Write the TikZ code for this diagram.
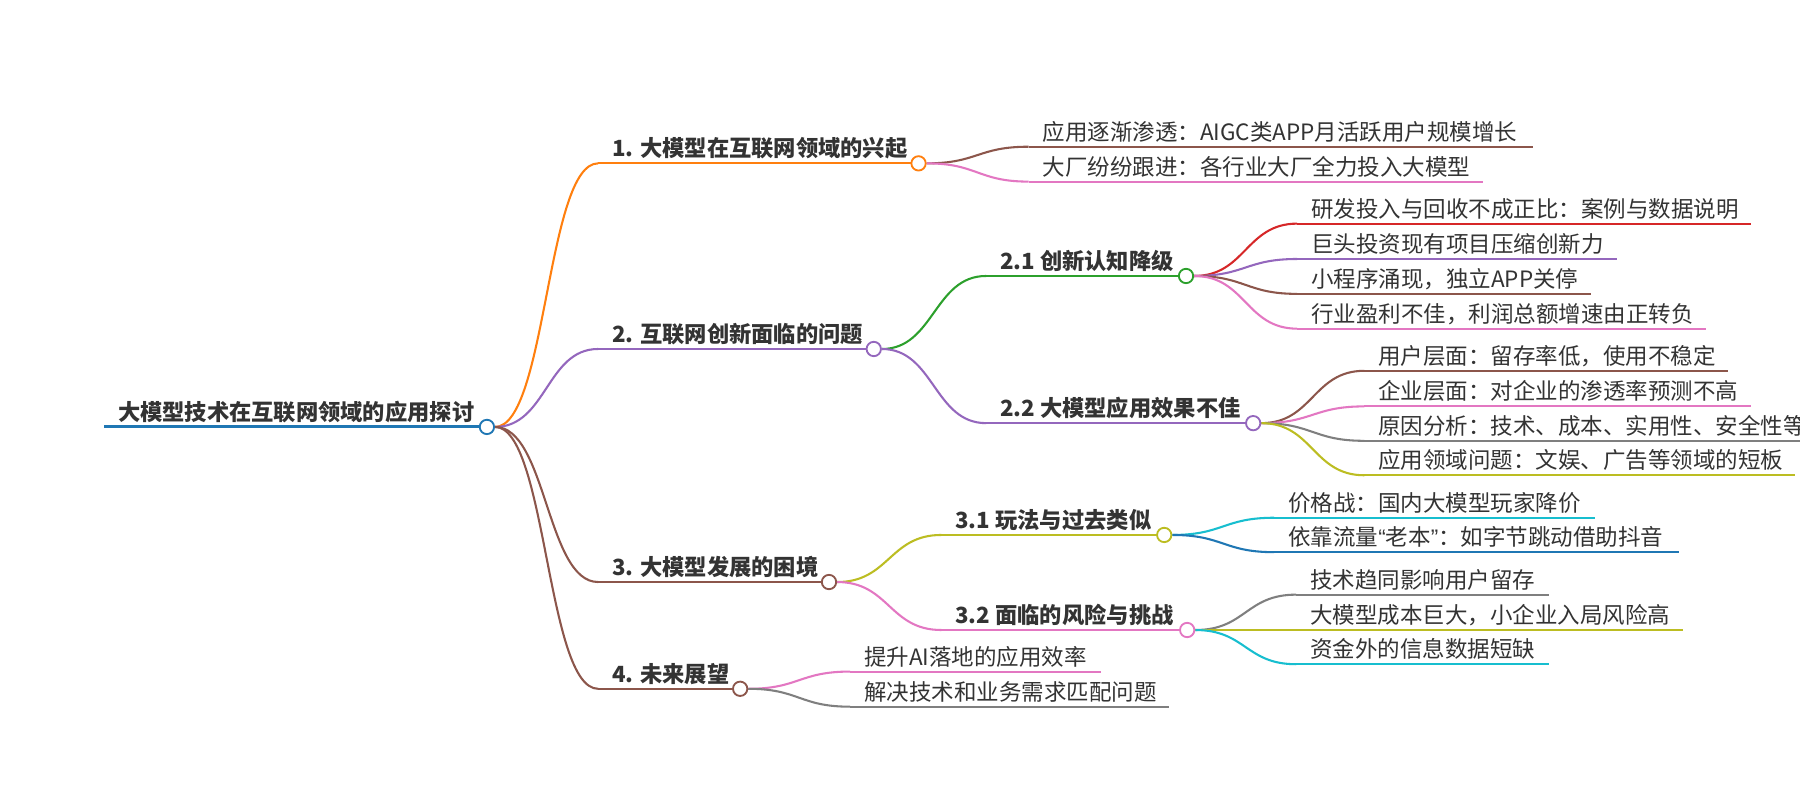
\documentclass[tikz,border=0pt]{standalone}
\usepackage{fontspec}
\setmainfont{Noto Sans CJK SC}
\newfontfamily\qfont{Liberation Sans}
\usetikzlibrary{calc,backgrounds}
\definecolor{cblue}{HTML}{1F77B4}
\definecolor{corange}{HTML}{FF7F0E}
\definecolor{cgreen}{HTML}{2CA02C}
\definecolor{cred}{HTML}{D62728}
\definecolor{cpurple}{HTML}{9467BD}
\definecolor{cbrown}{HTML}{8C564B}
\definecolor{cpink}{HTML}{E377C2}
\definecolor{cgray}{HTML}{7F7F7F}
\definecolor{colive}{HTML}{BCBD22}
\definecolor{ccyan}{HTML}{17BECF}
\definecolor{ctext}{HTML}{333333}
\newcommand\mmlink[3]{\draw[lk=#1] let \p1=(#2), \p2=(#3) in (\p1) .. controls ({0.5*\x1+0.5*\x2},\y1) and ({0.5*\x1+0.5*\x2},\y2) .. (\p2);}
\newcommand\mmul[2]{\draw[lk=#1] (#2.south west) -- (#2.south east);}
\tikzset{
  topic/.style={anchor=south west, inner xsep=12pt, inner ysep=0pt, text height=15pt, text depth=5.5pt, text=ctext, font=\fontsize{19.6pt}{23pt}\selectfont},
  main/.style={topic, font=\fontsize{19.4pt}{23pt}\selectfont\bfseries},
  dot/.style={circle, draw=#1, fill=white, line width=1.6pt, minimum size=12.5pt, inner sep=0pt},
  lk/.style={draw=#1, line width=1.8pt},
}
\begin{document}
\begin{tikzpicture}[x=1pt,y=-1pt]
\useasboundingbox (0,0) rectangle (1568,697);
\begin{pgfonlayer}{background}
\fill[white] (0,0) rectangle (1568,697);
\end{pgfonlayer}

% root
\node[main] (root) at (90.6,371.9) {\makebox[302.9pt][l]{大模型技术在互联网领域的应用探讨}};
\draw[lk=cblue, line width=2.6pt] (root.south west) -- (root.south east);
\node[dot=cblue] (rootc) at ([xshift=6.25pt]root.south east) {};

% level 1
\node[main] (n1) at (521,142.3) {\makebox[248.5pt][l]{1. 大模型在互联网领域的兴起}};
\node[main] (n2) at (521,304) {\makebox[209.5pt][l]{2. 互联网创新面临的问题}};
\node[main] (n3) at (521,507) {\makebox[170.5pt][l]{3. 大模型发展的困境}};
\node[main] (n4) at (521,600) {\makebox[93.1pt][l]{4. 未来展望}};
\mmul{corange}{n1} \mmul{cpurple}{n2} \mmul{cbrown}{n3} \mmul{cbrown}{n4}
\node[dot=corange] (n1c) at ([xshift=6.25pt]n1.south east) {};
\node[dot=cpurple] (n2c) at ([xshift=6.25pt]n2.south east) {};
\node[dot=cbrown] (n3c) at ([xshift=6.25pt]n3.south east) {};
\node[dot=cbrown] (n4c) at ([xshift=6.25pt]n4.south east) {};

% level 2
\node[main] (n21) at (859,240.4) {\makebox[143.5pt][l]{2.1 创新认知降级}};
\node[main] (n22) at (859,368.6) {\makebox[202pt][l]{2.2 大模型应用效果不佳}};
\node[main] (n31) at (820,466) {\makebox[163.5pt][l]{3.1 玩法与过去类似}};
\node[main] (n32) at (820,548.8) {\makebox[183.5pt][l]{3.2 面临的风险与挑战}};
\mmul{cgreen}{n21} \mmul{cpurple}{n22} \mmul{colive}{n31} \mmul{cpink}{n32}
\node[dot=cgreen] (n21c) at ([xshift=6.25pt]n21.south east) {};
\node[dot=cpurple] (n22c) at ([xshift=6.25pt]n22.south east) {};
\node[dot=colive] (n31c) at ([xshift=6.25pt]n31.south east) {};
\node[dot=cpink] (n32c) at ([xshift=6.25pt]n32.south east) {};

% leaves
\node[topic] (l1a) at (896,127.8) {\makebox[414.7pt][l]{应用逐渐渗透：AIGC类APP月活跃用户规模增长}};
\node[topic] (l1b) at (896,158.2) {\makebox[371.5pt][l]{大厂纷纷跟进：各行业大厂全力投入大模型}};
\node[topic] (l21a) at (1130,194.8) {\makebox[370.6pt][l]{研发投入与回收不成正比：案例与数据说明}};
\node[topic] (l21b) at (1130,225.6) {\makebox[254pt][l]{巨头投资现有项目压缩创新力}};
\node[topic] (l21c) at (1130,256) {\makebox[231.7pt][l]{小程序涌现，独立APP关停}};
\node[topic] (l21d) at (1130,286.3) {\makebox[331.7pt][l]{行业盈利不佳，利润总额增速由正转负}};
\node[topic] (l22a) at (1188.5,323) {\makebox[292.5pt][l]{用户层面：留存率低，使用不稳定}};
\node[topic] (l22b) at (1188.5,354) {\makebox[312.1pt][l]{企业层面：对企业的渗透率预测不高}};
\node[topic] (l22c) at (1188.5,384) {\makebox[367.5pt][l]{原因分析：技术、成本、实用性、安全性等}};
\node[topic] (l22d) at (1188.5,414) {\makebox[351pt][l]{应用领域问题：文娱、广告等领域的短板}};
\node[topic] (l31a) at (1110,451) {\makebox[254.6pt][l]{价格战：国内大模型玩家降价}};
\node[topic] (l31b) at (1110,481) {\makebox[328pt][l]{依靠流量{\qfont “}老本{\qfont ”}：如字节跳动借助抖音}};
\node[topic] (l32a) at (1129,518) {\makebox[195.6pt][l]{技术趋同影响用户留存}};
\node[topic] (l32b) at (1129,548.8) {\makebox[313pt][l]{大模型成本巨大，小企业入局风险高}};
\node[topic] (l32c) at (1129,578.6) {\makebox[195.6pt][l]{资金外的信息数据短缺}};
\node[topic] (l4a) at (740.5,585) {\makebox[194.3pt][l]{提升AI落地的应用效率}};
\node[topic] (l4b) at (740.5,615.6) {\makebox[253.5pt][l]{解决技术和业务需求匹配问题}};
\mmul{cbrown}{l1a} \mmul{cpink}{l1b}
\mmul{cred}{l21a} \mmul{cpurple}{l21b} \mmul{cbrown}{l21c} \mmul{cpink}{l21d}
\mmul{cbrown}{l22a} \mmul{cpink}{l22b} \mmul{cgray}{l22c} \mmul{colive}{l22d}
\mmul{ccyan}{l31a} \mmul{cblue}{l31b}
\mmul{cgray}{l32a} \mmul{colive}{l32b} \mmul{ccyan}{l32c}
\mmul{cpink}{l4a} \mmul{cgray}{l4b}

% connectors
\begin{pgfonlayer}{background}
\mmlink{corange}{rootc.east}{n1.south west}
\mmlink{cpurple}{rootc.east}{n2.south west}
\mmlink{cbrown}{rootc.east}{n3.south west}
\mmlink{cbrown}{rootc.east}{n4.south west}
\mmlink{cbrown}{n1c.east}{l1a.south west}
\mmlink{cpink}{n1c.east}{l1b.south west}
\mmlink{cgreen}{n2c.east}{n21.south west}
\mmlink{cpurple}{n2c.east}{n22.south west}
\mmlink{cred}{n21c.east}{l21a.south west}
\mmlink{cpurple}{n21c.east}{l21b.south west}
\mmlink{cbrown}{n21c.east}{l21c.south west}
\mmlink{cpink}{n21c.east}{l21d.south west}
\mmlink{cbrown}{n22c.east}{l22a.south west}
\mmlink{cpink}{n22c.east}{l22b.south west}
\mmlink{cgray}{n22c.east}{l22c.south west}
\mmlink{colive}{n22c.east}{l22d.south west}
\mmlink{colive}{n3c.east}{n31.south west}
\mmlink{cpink}{n3c.east}{n32.south west}
\mmlink{ccyan}{n31c.east}{l31a.south west}
\mmlink{cblue}{n31c.east}{l31b.south west}
\mmlink{cgray}{n32c.east}{l32a.south west}
\mmlink{colive}{n32c.east}{l32b.south west}
\mmlink{ccyan}{n32c.east}{l32c.south west}
\mmlink{cpink}{n4c.east}{l4a.south west}
\mmlink{cgray}{n4c.east}{l4b.south west}
\end{pgfonlayer}
\end{tikzpicture}
\end{document}
